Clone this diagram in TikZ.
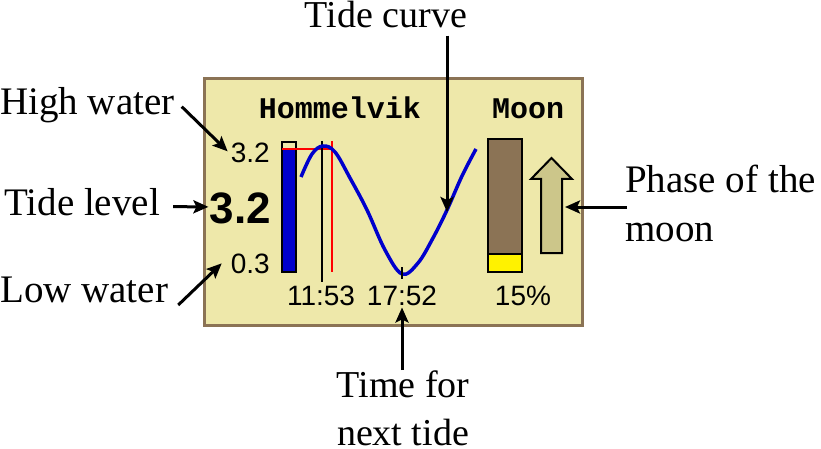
\documentclass[tikz,border=0pt]{standalone}
\usepackage{fontspec}
\setmainfont{Liberation Serif}
\newfontfamily\lcdsans{Liberation Sans}
\newfontfamily\lcdmono{Liberation Mono}
\usetikzlibrary{arrows.meta,calc}
\definecolor{panelfill}{HTML}{EEE8AA}
\definecolor{panelrim}{HTML}{8B7355}
\definecolor{tideblue}{HTML}{0000CC}
\definecolor{moonarrowfill}{HTML}{CCC68A}

\begin{document}
\begin{tikzpicture}[
    x=1pt, y=-1pt,
    callout/.style={font=\fontsize{39}{49}\selectfont, inner sep=0pt},
    lcd/.style={font=\lcdsans\fontsize{28}{30}\selectfont, inner sep=0pt},
    lcdbig/.style={font=\lcdsans\bfseries\fontsize{44}{46}\selectfont, inner sep=0pt},
    heading/.style={font=\lcdmono\bfseries\fontsize{30}{32}\selectfont, inner sep=0pt},
    pointer/.style={-{Stealth[length=15pt,width=13pt,inset=3pt]}, line width=3pt},
    frame/.style={draw=black, line width=2.5pt}
  ]
  \useasboundingbox (0,0) rectangle (821,449);

  % display panel
  \draw[panelrim, fill=panelfill, line width=3pt] (204.5,78.5) rectangle (582.5,325.5);

  \node[heading, anchor=base] (station) at (340,119) {Hommelvik};
  \node[heading, anchor=base] (moonttl) at (528,119) {Moon};

  \node[lcd, anchor=base east] (highval) at (270,163) {3.2};
  \node[lcdbig, anchor=base east] (levelval) at (271,223) {3.2};
  \node[lcd, anchor=base east] (lowval) at (270,273) {0.3};

  \node[lcd, anchor=base] (prevtime) at (321,305) {11:53};
  \node[lcd, anchor=base] (nexttime) at (402,305) {17:52};
  \node[lcd, anchor=base] (moonpct) at (523,305) {15\%};

  % level bar
  \fill[tideblue] (282,149) rectangle (296,272);
  \draw[frame] (282.2,142) rectangle (295.8,272);
  \draw[red, line width=2.5pt] (282,149) -- (332,149);
  \draw[red, line width=2.5pt] (332,141) -- (332,272);
  \draw[line width=2pt] (322,141) -- (322,282);

  % tide curve
  \draw[tideblue, line width=3.5pt] plot[smooth, tension=0.6] coordinates {
    (301,177) (312,154) (323,146) (335,152) (350,178) (367,210)
    (385,250) (402,274) (418,263) (433,238) (447,210) (462,176) (476,149)};
  \draw[line width=2pt] (402,267) -- (402,279);
  \coordinate (curvept) at (447,212);

  % moon
  \draw[frame, fill=panelrim] (488,139) rectangle (522,272);
  \draw[frame, fill=yellow] (488,254) rectangle (522,272);
  \draw[line width=2pt, fill=moonarrowfill]
    (541,253) -- (562,253) -- (562,179) -- (572,179) -- (551.5,158)
    -- (531,179) -- (541,179) -- cycle;
  \coordinate (moonside) at (565,207);

  % callouts
  \node[callout, anchor=base west] (highlbl) at (0,115) {High water};
  \node[callout, anchor=base west] (levellbl) at (4,215) {Tide level};
  \node[callout, anchor=base west] (lowlbl) at (0,302) {Low water};
  \node[callout, font=\fontsize{38}{48}\selectfont, anchor=base] (curvelbl) at (386,28) {Tide curve};
  \node[callout, font=\fontsize{38}{48}\selectfont, anchor=north, align=center] (nextlbl) at (403,371) {Time for\\next tide};
  \node[callout, anchor=north west, align=left] (phaselbl) at (625,165) {Phase of the\\moon};

  \draw[pointer] ($(highlbl.east)+(7,1)$) -- ($(highval.west)+(-3,-2)$);
  \draw[pointer] ($(levellbl.east)+(13,5)$) -- ($(levelval.west)+(-1,-1)$);
  \draw[pointer] ($(lowlbl.base east)+(10,3)$) -- ($(lowval.west)+(-9,0)$);
  \draw[pointer] ($(curvelbl.south -| curvept)+(0,7)$) -- (curvept);
  \draw[pointer] ($(nextlbl.north -| nexttime.south)+(0,-1)$) -- ($(nexttime.south)+(0,2)$);
  \draw[pointer] ($(moonside -| phaselbl.west)+(2,0)$) -- (moonside);
\end{tikzpicture}
\end{document}
